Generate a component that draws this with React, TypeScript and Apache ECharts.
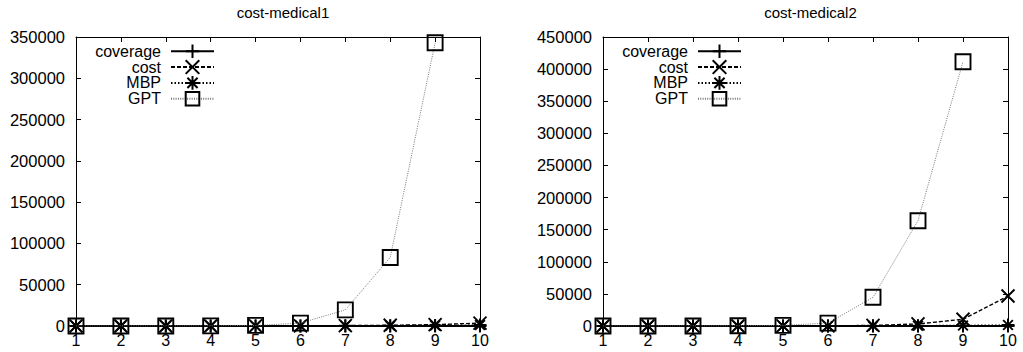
import React, { useEffect, useRef } from "react";
import * as echarts from "echarts";

const xs = [1, 2, 3, 4, 5, 6, 7, 8, 9, 10];
const titles = ["cost-medical1", "cost-medical2"];
const seriesNames = ["coverage", "cost", "MBP", "GPT"];

// cost-medical1
const coverage1 = [1, 2, 3, 4, 6, 8, 10, 13, 16, 20];
const cost1 = [2, 5, 12, 30, 80, 200, 450, 900, 1600, 3500];
const mbp1 = [1, 3, 8, 20, 50, 120, 250, 450, 700, 1200];
const gpt1 = [5, 20, 60, 200, 700, 3500, 19500, 83000, 343000, null];

// cost-medical2
const coverage2 = [1, 2, 3, 4, 6, 8, 10, 13, 16, 20];
const cost2 = [2, 5, 15, 40, 100, 300, 900, 3200, 10500, 46700];
const mbp2 = [1, 3, 8, 20, 50, 120, 250, 500, 900, 1500];
const gpt2 = [5, 20, 80, 300, 1000, 4500, 44700, 164000, 411500, null];

const yMax = [350000, 450000];
const yInterval = 50000;

const FONT = "Liberation Sans, Arial, Helvetica, sans-serif";

const SYM_PLUS = "path://M0,6H12M6,0V12";
const SYM_X = "path://M0,0L12,12M12,0L0,12";
const SYM_STAR = "path://M0,6H12M6,0V12M1.5,1.5L10.5,10.5M10.5,1.5L1.5,10.5";
const SYM_SQ = "path://M0,0H12V12H0Z";

const styles = [
  { symbol: SYM_PLUS, size: 13, line: { color: "#000", width: 1.8, type: "solid" as any } },
  { symbol: SYM_X, size: 13, line: { color: "#000", width: 1.4, type: [4, 2] as any } },
  { symbol: SYM_STAR, size: 13, line: { color: "#000", width: 1.4, type: [1.5, 2] as any } },
  { symbol: SYM_SQ, size: 15, line: { color: "#777", width: 1, type: [1, 1.3] as any } },
];

export default function App() {
  const ref = useRef<HTMLDivElement>(null);
  useEffect(() => {
    if (!ref.current) return;
    const chart = echarts.init(ref.current, null, { renderer: "svg" });
    const grids = [
      { left: 76, top: 37, width: 404, height: 289 },
      { left: 603, top: 37, width: 405, height: 289 },
    ];
    const data = [
      [coverage1, cost1, mbp1, gpt1],
      [coverage2, cost2, mbp2, gpt2],
    ];
    const xAxis: any[] = [];
    const yAxis: any[] = [];
    const series: any[] = [];
    grids.forEach((g, gi) => {
      const base = {
        gridIndex: gi,
        type: "value",
        min: 1,
        max: 10,
        interval: 1,
        splitLine: { show: false },
        axisLine: { show: true, onZero: false, lineStyle: { color: "#000", width: 1 } },
        axisTick: { show: true, inside: true, length: 5, lineStyle: { color: "#000" } },
      };
      xAxis.push({
        ...base,
        position: "bottom",
        axisLabel: { color: "#000", fontFamily: FONT, fontSize: 16, margin: 6 },
      });
      xAxis.push({ ...base, position: "top", axisLabel: { show: false } });
      const ybase = {
        gridIndex: gi,
        type: "value",
        min: 0,
        max: yMax[gi],
        interval: yInterval,
        splitLine: { show: false },
        axisLine: { show: true, onZero: false, lineStyle: { color: "#000", width: 1 } },
        axisTick: { show: true, inside: true, length: 5, lineStyle: { color: "#000" } },
      };
      yAxis.push({
        ...ybase,
        position: "left",
        axisLabel: {
          color: "#000",
          fontFamily: FONT,
          fontSize: 16.5,
          margin: 11,
          formatter: (v: number) => String(v),
        },
      });
      yAxis.push({ ...ybase, position: "right", axisLabel: { show: false } });
      seriesNames.forEach((name, si) => {
        const st = styles[si];
        series.push({
          name,
          type: "line",
          xAxisIndex: gi * 2,
          yAxisIndex: gi * 2,
          data: xs.map((x, i) => [x, data[gi][si][i]]),
          symbol: st.symbol,
          symbolSize: st.size,
          showAllSymbol: true,
          lineStyle: { ...st.line },
          itemStyle: { color: "none", borderColor: "#000", borderWidth: 1.9 },
          emphasis: { disabled: true },
          z: 2 + si,
        });
      });
    });
    chart.setOption({
      animation: false,
      title: titles.map((t, i) => ({
        text: t,
        left: grids[i].left + grids[i].width / 2,
        top: 0,
        textAlign: "center",
        textStyle: { fontFamily: FONT, fontSize: 15, fontWeight: "normal", color: "#000" },
      })),
      legend: grids.map((g) => ({
        orient: "vertical",
        align: "right",
        right: 1023 - (g.left + 139),
        top: 42,
        itemWidth: 43,
        itemHeight: 17,
        itemGap: -2.8,
        padding: 0,
        data: seriesNames,
        selectedMode: false,
        textStyle: {
          fontFamily: FONT,
          fontSize: 16,
          color: "#000",
          padding: [0, 5, 0, 0],
        },
      })),
      grid: grids,
      xAxis,
      yAxis,
      series,
    });
    return () => chart.dispose();
  }, []);
  return (
    <div
      ref={ref}
      style={{ position: "absolute", left: 0, top: 0, width: 1023, height: 352, background: "#fff" }}
    />
  );
}
